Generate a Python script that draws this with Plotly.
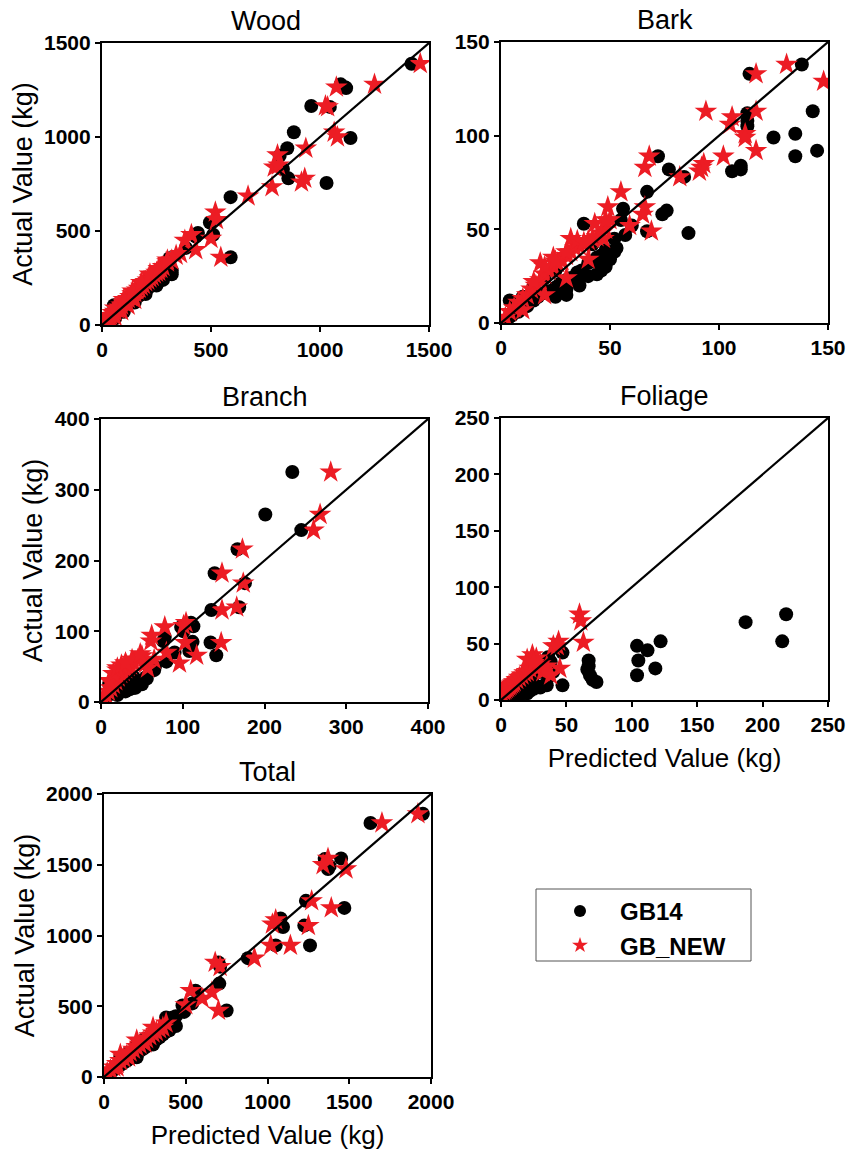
import plotly.graph_objects as go

W, H = 847, 1151
FONT = "Liberation Sans, Arial, sans-serif"
BLACK = "#000000"
RED = "#EC1C24"

panel_titles = ["Wood", "Bark", "Branch", "Foliage", "Total"]
axis_max = [1500, 150, 400, 250, 2000]
tick_vals = [[0, 500, 1000, 1500], [0, 50, 100, 150], [0, 100, 200, 300, 400],
             [0, 50, 100, 150, 200, 250], [0, 500, 1000, 1500, 2000]]
series_names = ["GB14", "GB_NEW"]

# ---------------- Wood ----------------
wood_gb14_pred = [15, 25, 35, 45, 55, 60, 70, 80, 90, 100, 110, 120, 130, 140, 150, 160, 170, 180, 190, 200,
                  210, 220, 230, 240, 250, 260, 270, 280, 290, 300, 310, 320, 55, 80, 120, 160, 200, 240,
                  150, 200, 250, 280, 320, 100, 60,
                  1420, 1095, 1115, 1120, 960, 1045, 880, 1140, 850, 855, 830, 815, 1030, 590, 590, 495,
                  440, 430, 510, 385, 310, 300]
wood_gb14_act = [10, 22, 30, 40, 50, 62, 60, 75, 80, 95, 100, 110, 120, 128, 140, 150, 155, 168, 175, 185,
                 195, 205, 215, 225, 235, 245, 250, 262, 270, 275, 280, 270, 105, 85, 130, 170, 220, 250,
                 120, 165, 210, 240, 290, 70, 35,
                 1390, 1280, 1265, 1260, 1165, 1160, 1025, 995, 940, 780, 830, 900, 755, 680, 360, 545,
                 490, 470, 480, 410, 355, 320]
wood_new_pred = [10, 20, 30, 40, 50, 60, 70, 80, 90, 100, 110, 120, 130, 140, 150, 160, 170, 180, 190, 200,
                 210, 220, 230, 240, 250, 260, 270, 280, 300, 320, 340, 360, 40, 60, 90, 120, 150,
                 60, 100, 140, 180, 220, 260, 300,
                 1460, 1250, 1075, 1025, 1035, 935, 805, 790, 780, 915, 930, 1065, 1080, 670, 520, 545,
                 430, 410, 380, 500, 525, 810]
wood_new_act = [15, 28, 40, 50, 65, 72, 85, 95, 105, 120, 130, 140, 150, 165, 172, 185, 195, 205, 215, 230,
                238, 250, 258, 270, 280, 285, 300, 310, 335, 345, 370, 380, 25, 45, 75, 105, 135,
                90, 135, 180, 225, 270, 300, 345,
                1390, 1280, 1265, 1165, 1160, 940, 905, 840, 735, 760, 780, 1025, 1000, 685, 600, 360,
                400, 480, 450, 460, 560, 850]

# ---------------- Bark ----------------
bark_gb14_pred = [3, 5, 8, 10, 12, 15, 17, 20, 22, 25, 27, 30, 32, 35, 37, 40, 42, 44, 46, 48, 50,
                  4, 10, 15, 20, 25, 30, 45, 47, 50, 52, 36, 46, 53, 52,
                  25, 30, 35, 40, 44, 48,
                  138, 114, 113, 113, 113, 143, 125, 135, 135, 145, 106, 110, 110, 77, 84, 72, 67, 76,
                  74, 86, 56, 55, 57, 67, 60, 38, 42]
bark_gb14_act = [2, 4, 6, 8, 9, 12, 14, 16, 17, 19, 21, 23, 24, 27, 28, 32, 33, 35, 36, 39, 37,
                 12, 14, 20, 24, 28, 15, 32, 30, 34, 38, 20, 28, 40, 45,
                 14, 18, 22, 25, 26, 30,
                 138, 133, 112, 108, 105, 113, 99, 101, 89, 92, 81, 82, 84, 82, 78, 89, 70, 60,
                 58, 48, 61, 55, 47, 49, 52, 53, 42]
bark_new_pred = [2, 4, 6, 8, 10, 12, 14, 16, 18, 20, 22, 24, 26, 28, 30, 32, 34, 36, 38, 40, 42, 44, 46, 48,
                 10, 20, 30, 40, 18, 24, 32,
                 15, 20, 25, 30, 35,
                 131, 117, 148, 117, 94, 106, 105, 112, 112, 117, 102, 93, 92, 91, 82, 68, 66, 55, 49,
                 66, 65, 69, 59, 50, 43, 47, 48, 38]
bark_new_act = [3, 6, 8, 11, 13, 15, 18, 20, 23, 26, 28, 30, 32, 33, 36, 38, 40, 41, 42, 44, 45, 46, 48, 50,
                7, 15, 24, 34, 32, 35, 45,
                22, 30, 33, 38, 44,
                138, 133, 129, 113, 113, 110, 106, 101, 99, 92, 89, 85, 83, 81, 78, 89, 83, 70, 62,
                62, 58, 49, 52, 55, 53, 45, 55, 43]

# ---------------- Branch ----------------
branch_gb14_pred = [3, 6, 9, 12, 15, 18, 21, 24, 27, 30, 33, 36, 40, 45, 50, 55, 60, 65, 10, 20, 30, 35, 42,
                    20, 30, 40, 50,
                    234, 201, 245, 167, 139, 176, 135, 169, 134, 141, 113, 110, 112, 108, 98, 101, 90,
                    80, 78, 76, 66, 56]
branch_gb14_act = [3, 7, 10, 12, 15, 17, 20, 22, 25, 27, 30, 33, 35, 25, 30, 35, 45, 45, 25, 35, 50, 18, 20,
                   10, 15, 20, 25,
                   325, 265, 243, 216, 182, 168, 130, 134, 84, 66, 107, 112, 85, 72, 106, 100, 70,
                   57, 92, 86, 50, 33]
branch_new_pred = [3, 6, 9, 12, 15, 18, 21, 24, 27, 30, 33, 36, 40, 45, 50, 55, 10, 20, 30, 38,
                   15, 20, 25, 30,
                   281, 268, 260, 173, 148, 174, 148, 166, 147, 117, 104, 101, 103, 96, 78, 62, 61,
                   48, 57, 65, 80]
branch_new_act = [5, 10, 15, 20, 25, 30, 35, 40, 43, 47, 50, 52, 55, 60, 65, 55, 30, 45, 55, 60,
                  40, 48, 52, 55,
                  325, 265, 243, 216, 182, 168, 130, 134, 84, 66, 112, 108, 84, 55, 106, 94, 86,
                  68, 48, 60, 70]

# ---------------- Foliage ----------------
foliage_gb14_pred = [3, 5, 7, 9, 11, 13, 15, 17, 20, 22, 25, 28, 30, 33, 20, 25, 30, 36, 40, 15, 20,
                     218, 187, 215, 122, 104, 112, 105, 118, 104, 67, 67, 66, 68, 70, 73, 47, 47,
                     36, 38, 35]
foliage_gb14_act = [2, 3, 4, 5, 6, 7, 8, 9, 10, 8, 10, 12, 11, 13, 18, 22, 25, 20, 25, 5, 6,
                    76, 69, 52, 52, 48, 44, 35, 28, 22, 35, 30, 27, 22, 18, 16, 42, 13,
                    38, 34, 13]
foliage_new_pred = [1, 2, 3, 4, 5, 6, 7, 8, 9, 10, 12, 14, 16, 18, 20, 22, 25, 28, 30, 32, 35, 38,
                    60, 61, 63, 44, 40, 43, 45, 24, 20, 27, 25]
foliage_new_act = [5, 8, 9, 10, 11, 12, 13, 14, 15, 16, 18, 20, 22, 24, 25, 28, 30, 28, 32, 25, 30, 22,
                   76, 70, 51, 52, 48, 48, 28, 40, 36, 37, 33]

# ---------------- Total ----------------
total_gb14_pred = [20, 40, 60, 80, 100, 120, 140, 160, 180, 200, 220, 240, 260, 280, 300, 320, 340, 360, 380,
                   400, 420, 440, 100, 150, 200, 250, 350, 200, 300, 400,
                   1950, 1630, 1450, 1350, 1370, 1380, 1470, 1235, 1225, 1260, 1080, 1095, 1050, 880,
                   700, 710, 705, 560, 540, 750, 480, 490, 440, 380]
total_gb14_act = [15, 30, 50, 70, 85, 100, 115, 130, 150, 170, 185, 200, 215, 235, 250, 265, 280, 300, 320,
                  340, 420, 430, 140, 170, 230, 270, 300, 140, 230, 330,
                  1860, 1795, 1545, 1540, 1470, 1490, 1195, 1245, 1070, 930, 1120, 1060, 930, 840,
                  810, 780, 660, 610, 520, 470, 505, 460, 360, 420]
total_new_pred = [20, 40, 60, 80, 100, 120, 140, 160, 180, 200, 220, 240, 260, 280, 300, 320, 340, 360, 380,
                  80, 150, 250, 100, 200, 300,
                  1920, 1700, 1370, 1340, 1480, 1270, 1250, 1390, 1140, 1020, 1050, 1030, 920, 680,
                  710, 530, 600, 660, 700, 500]
total_new_act = [30, 50, 70, 95, 115, 135, 155, 175, 195, 215, 230, 250, 270, 290, 310, 320, 340, 350, 380,
                 70, 140, 240, 160, 260, 350,
                 1860, 1795, 1545, 1500, 1470, 1245, 1070, 1195, 930, 930, 1110, 1080, 840, 810,
                 780, 610, 555, 600, 470, 510]

gb14_pred = [wood_gb14_pred, bark_gb14_pred, branch_gb14_pred, foliage_gb14_pred, total_gb14_pred]
gb14_act = [wood_gb14_act, bark_gb14_act, branch_gb14_act, foliage_gb14_act, total_gb14_act]
new_pred = [wood_new_pred, bark_new_pred, branch_new_pred, foliage_new_pred, total_new_pred]
new_act = [wood_new_act, bark_new_act, branch_new_act, foliage_new_act, total_new_act]

# plot-area pixel boxes (left, right, top, bottom)
boxes = [(102, 429, 43, 325), (501, 828, 42, 323), (101, 428, 419, 702),
         (501, 828, 418, 700), (104, 431, 794, 1077)]
show_ytitle = [True, False, True, False, True]
show_xtitle = [False, False, False, True, True]

fig = go.Figure()
layout = {}
annotations = []
for i in range(5):
    n = "" if i == 0 else str(i + 1)
    xa, ya = "x" + n, "y" + n
    m = axis_max[i]
    fig.add_trace(go.Scatter(x=gb14_pred[i], y=gb14_act[i], mode="markers", xaxis=xa, yaxis=ya,
                             name=series_names[0], legendgroup="a", showlegend=(i == 4),
                             marker=dict(symbol="circle", size=14, color=BLACK)))
    fig.add_trace(go.Scatter(x=new_pred[i], y=new_act[i], mode="markers", xaxis=xa, yaxis=ya,
                             name=series_names[1], legendgroup="b", showlegend=(i == 4),
                             marker=dict(symbol="star", size=17, color=RED, line=dict(width=0))))
    fig.add_trace(go.Scatter(x=[0, m], y=[0, m], mode="lines", xaxis=xa, yaxis=ya,
                             line=dict(color=BLACK, width=2.2), showlegend=False, hoverinfo="skip"))
    l, r, t, b = boxes[i]
    common = dict(range=[0, m], tickvals=tick_vals[i], showline=True, linecolor=BLACK, linewidth=2.2,
                  mirror=True, ticks="outside", ticklen=5, tickwidth=2, tickcolor=BLACK,
                  showgrid=False, zeroline=False, automargin=False,
                  tickfont=dict(family=FONT, size=21, color=BLACK, weight="bold"))
    xd = dict(common, domain=[l / W, r / W], anchor=ya)
    yd = dict(common, domain=[1 - b / H, 1 - t / H], anchor=xa)
    if show_xtitle[i]:
        xd["title"] = dict(text="Predicted Value (kg)", font=dict(family=FONT, size=26, color=BLACK),
                           standoff=14)
    if show_ytitle[i]:
        yd["title"] = dict(text="Actual Value (kg)", font=dict(family=FONT, size=27, color=BLACK),
                           standoff=4)
    layout["xaxis" + n] = xd
    layout["yaxis" + n] = yd
    annotations.append(dict(text=panel_titles[i], x=(l + r) / 2 / W, y=1 - t / H, xref="paper",
                            yref="paper", xanchor="center", yanchor="bottom", yshift=5, showarrow=False,
                            font=dict(family=FONT, size=27, color=BLACK)))

fig.update_layout(**layout)
fig.update_layout(
    width=W, height=H, margin=dict(l=0, r=0, t=0, b=0, autoexpand=False),
    paper_bgcolor="white", plot_bgcolor="white",
    annotations=annotations,
    shapes=[dict(type="rect", xref="paper", yref="paper", x0=536 / W, x1=751 / W,
                 y0=1 - 961 / H, y1=1 - 889 / H, line=dict(color="#555555", width=1))],
    legend=dict(x=540 / W, y=1 - 889 / H, xanchor="left", yanchor="top", bgcolor="rgba(0,0,0,0)",
                borderwidth=0, itemsizing="constant", itemwidth=70, tracegroupgap=0,
                font=dict(family=FONT, size=24, color=BLACK, weight="bold")),
)
fig.write_html("out.html", config={"displayModeBar": False},
               post_script="document.body.style.margin='0px';")
